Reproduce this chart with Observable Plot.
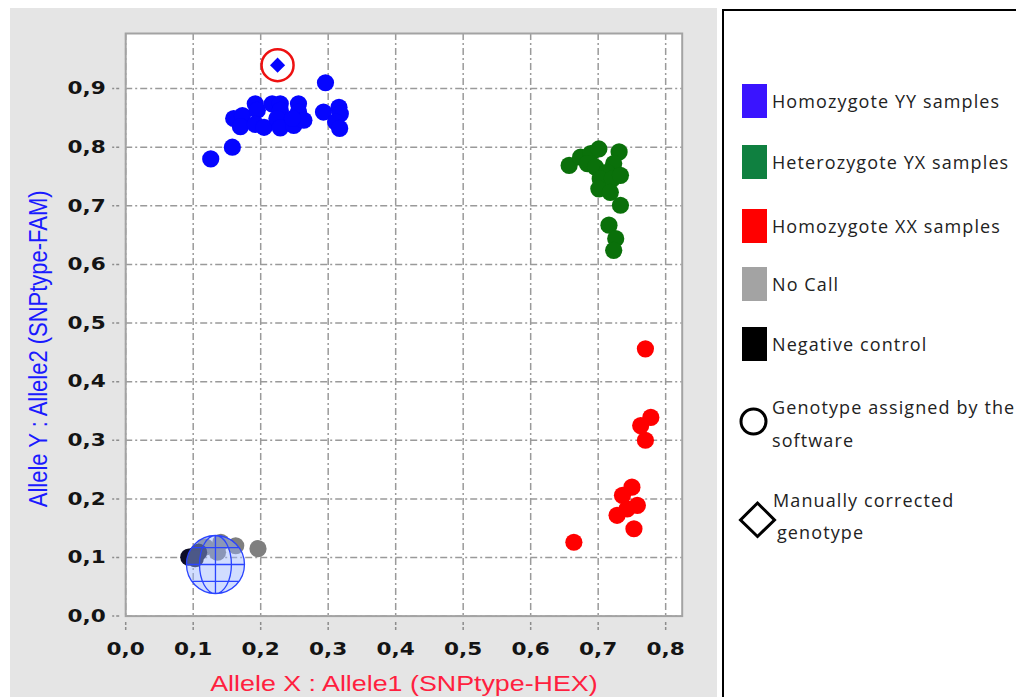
<!DOCTYPE html>
<html>
<head>
<meta charset="utf-8">
<script src="https://cdn.jsdelivr.net/npm/d3@7"></script>
<script src="https://cdn.jsdelivr.net/npm/@observablehq/plot@0.6"></script>
<style>
  html, body { margin: 0; padding: 0; background: #ffffff; }
  #wrap { position: relative; width: 1016px; height: 697px; overflow: hidden; background: #fff; }
  #panel { position: absolute; left: 10px; top: 8px; width: 707px; height: 700px; background: #e5e5e5; }
  #chart { position: absolute; left: 0; top: 0; }
  #legend { position: absolute; left: 722px; top: 9px; width: 320px; height: 720px; border: 2.5px solid #000; background: #fff; box-sizing: border-box; }
  .lg-item { position: absolute; left: 0; font-family: "Open Sans", "Noto Sans", sans-serif; font-size: 18px; color: #222; letter-spacing: 1.1px; white-space: nowrap; }
  .sw { position: absolute; left: 18px; width: 25px; height: 34px; }
  .lt { position: absolute; left: 48px; line-height: 34px; }
  g[aria-label="x-axis tick label"] text, g[aria-label="y-axis tick label"] text { font-family: "DejaVu Sans", sans-serif; font-weight: bold; font-size: 18px; }
</style>
</head>
<body>
<div id="wrap">
  <div id="panel"></div>
  <div id="chart"></div>
  <div id="legend"></div>
</div>
<script>
// ---- Data ----
const xTicks = [0, 0.1, 0.2, 0.3, 0.4, 0.5, 0.6, 0.7, 0.8];
const yTicks = [0, 0.1, 0.2, 0.3, 0.4, 0.5, 0.6, 0.7, 0.8, 0.9];
const xTitle = "Allele X : Allele1 (SNPtype-HEX)";
const yTitle = "Allele Y : Allele2 (SNPtype-FAM)";

// Homozygote YY samples
const yyX = [0.126, 0.158, 0.296, 0.160, 0.173, 0.170, 0.192, 0.195, 0.192, 0.205, 0.217, 0.229, 0.229, 0.224, 0.229, 0.249, 0.256, 0.256, 0.264, 0.247, 0.293, 0.316, 0.318, 0.311, 0.317];
const yyY = [0.780, 0.800, 0.910, 0.849, 0.854, 0.835, 0.874, 0.863, 0.839, 0.834, 0.874, 0.874, 0.863, 0.849, 0.833, 0.837, 0.874, 0.860, 0.846, 0.849, 0.860, 0.868, 0.857, 0.843, 0.832];
// Heterozygote YX samples
const yxX = [0.657, 0.674, 0.689, 0.701, 0.684, 0.696, 0.731, 0.723, 0.713, 0.703, 0.721, 0.733, 0.701, 0.718, 0.733, 0.716, 0.726, 0.723];
const yxY = [0.769, 0.783, 0.789, 0.797, 0.772, 0.766, 0.792, 0.772, 0.757, 0.746, 0.746, 0.752, 0.729, 0.723, 0.701, 0.667, 0.644, 0.624];
// Homozygote XX samples
const xxX = [0.770, 0.778, 0.763, 0.770, 0.750, 0.736, 0.758, 0.743, 0.728, 0.753, 0.664];
const xxY = [0.456, 0.339, 0.325, 0.300, 0.220, 0.206, 0.189, 0.183, 0.172, 0.149, 0.126];
// No Call
const ncX = [0.141, 0.163, 0.136, 0.118, 0.196];
const ncY = [0.126, 0.120, 0.109, 0.118, 0.115];
// Negative control
const negX = [0.0935, 0.101, 0.108, 0.103];
const negY = [0.1005, 0.103, 0.109, 0.098];
// Manually corrected genotype (diamond) and software-assigned ring
const manX = [0.225];
const manY = [0.940];
// Cluster centroid marker (globe)
const centX = [0.133];
const centY = [0.088];

const legendLabels = ["Homozygote YY samples", "Heterozygote YX samples", "Homozygote XX samples", "No Call", "Negative control"];
const legendColors = ["#3a14ff", "#0f8040", "#ff0000", "#a3a3a3", "#000000"];
const pointColors = ["#0505ff", "#0a700a", "#ff0000", "#7f7f7f", "#0d0d26"];

const zip = (xs, ys) => xs.map((x, i) => ({x, y: ys[i]}));
const yy = zip(yyX, yyY), yx = zip(yxX, yxY), xx = zip(xxX, xxY), nc = zip(ncX, ncY), neg = zip(negX, negY);
const man = zip(manX, manY), cent = zip(centX, centY);

const fmt = d => d3.format(".1f")(d).replace(".", ",");

// Globe symbol for cluster centroid
function ell(ctx, rx, ry) {
  const k = 0.5523;
  ctx.moveTo(rx, 0);
  ctx.bezierCurveTo(rx, k * ry, k * rx, ry, 0, ry);
  ctx.bezierCurveTo(-k * rx, ry, -rx, k * ry, -rx, 0);
  ctx.bezierCurveTo(-rx, -k * ry, -k * rx, -ry, 0, -ry);
  ctx.bezierCurveTo(k * rx, -ry, rx, -k * ry, rx, 0);
  ctx.closePath();
}
const globe = {
  draw(ctx, size) {
    const r = Math.sqrt(size / Math.PI);
    ctx.moveTo(r, 0); ctx.arc(0, 0, r, 0, 2 * Math.PI); ctx.closePath();
    ell(ctx, 0.55 * r, r);
    ctx.moveTo(0, -r); ctx.lineTo(0, r);
    ctx.moveTo(-r, 0); ctx.lineTo(r, 0);
    const h = 0.58 * r, w = Math.sqrt(r * r - h * h);
    ctx.moveTo(-w, -h); ctx.lineTo(w, -h);
    ctx.moveTo(-w, h); ctx.lineTo(w, h);
  }
};

const gridStyle = {stroke: "#9a9a9a", strokeOpacity: 1, strokeWidth: 1.5, strokeDasharray: "7,3,2,3"};

const chart = Plot.plot({
  width: 720,
  height: 697,
  marginLeft: 125.2,
  marginRight: 38.3,
  marginTop: 33,
  marginBottom: 81.4,
  style: {background: "transparent", overflow: "visible"},
  x: {domain: [0, 0.8245]},
  y: {domain: [0, 0.994]},
  marks: [
    Plot.frame({fill: "#ffffff", stroke: "none"}),
    Plot.gridX(xTicks, gridStyle),
    Plot.gridY(yTicks, gridStyle),
    Plot.frame({stroke: "#a3a3a3", strokeWidth: 2}),
    Plot.axisX(xTicks, {tickFormat: fmt, tickSize: 8, tickPadding: 12, dy: 6.5, stroke: "#8c8c8c", strokeWidth: 1.5, strokeDasharray: "3,2", fill: "#141414", label: null}),
    Plot.axisY(yTicks, {tickFormat: fmt, tickSize: 7, tickPadding: 7, dx: -6, stroke: "#8c8c8c", strokeWidth: 1.5, strokeDasharray: "3,2", fill: "#141414", label: null}),
    Plot.text([xTitle], {frameAnchor: "bottom", textAnchor: "middle", lineAnchor: "middle", dy: 68, fill: "#ff1f3f", fontSize: 22, fontFamily: "Liberation Sans, Arial, sans-serif"}),
    Plot.text([yTitle], {frameAnchor: "left", textAnchor: "middle", lineAnchor: "middle", dx: -87, dy: 24, rotate: -90, fill: "#1a1aff", fontSize: 22, fontFamily: "Liberation Sans, Arial, sans-serif"}),
    Plot.dot(yy, {x: "x", y: "y", r: 8.6, fill: pointColors[0]}),
    Plot.dot(yx, {x: "x", y: "y", r: 8.6, fill: pointColors[1]}),
    Plot.dot(xx, {x: "x", y: "y", r: 8.6, fill: pointColors[2]}),
    Plot.dot(nc, {x: "x", y: "y", r: 8.6, fill: pointColors[3]}),
    Plot.dot(neg, {x: "x", y: "y", r: 8.6, fill: pointColors[4]}),
    Plot.dot(cent, {x: "x", y: "y", r: 29, symbol: globe, fill: "#9ab4ff", fillOpacity: 0.45, stroke: "#2a44ff", strokeWidth: 1.3}),
    Plot.dot(man, {x: "x", y: "y", r: 6.8, symbol: "diamond2", fill: pointColors[0]}),
    Plot.dot(man, {x: "x", y: "y", r: 16, fill: "none", stroke: "#ee1111", strokeWidth: 2.5})
  ]
});

// Wide-glyph look of the original's axis text
d3.select(chart).selectAll('g[aria-label="x-axis tick label"] text, g[aria-label="y-axis tick label"] text').each(function() {
  const t = this.getAttribute("transform");
  if (t) this.setAttribute("transform", t + " scale(1.2,1)");
});
d3.select(chart).selectAll('g[aria-label="text"] text').each(function() {
  const t = this.getAttribute("transform") || "";
  const txt = this.textContent;
  if (txt === xTitle) this.setAttribute("transform", t + " scale(1.22,1)");
  if (txt === yTitle) this.setAttribute("transform", t + " scale(1,1.15)");
});

document.getElementById("chart").appendChild(chart);

// ---- Legend ----
const legend = document.getElementById("legend");
const itemTops = [73, 134, 198, 256, 316];
legendLabels.forEach((lab, i) => {
  const it = document.createElement("div");
  it.className = "lg-item";
  it.style.top = itemTops[i] + "px";
  it.innerHTML = `<div class="sw" style="background:${legendColors[i]};top:0"></div><div class="lt" style="top:0">${lab}</div>`;
  legend.appendChild(it);
});

// Shape legend drawn as small SVG glyphs
const shapes = document.createElementNS("http://www.w3.org/2000/svg", "svg");
shapes.setAttribute("width", 60); shapes.setAttribute("height", 600);
shapes.style.position = "absolute"; shapes.style.left = "0px"; shapes.style.top = "0px";
const sel = d3.select(shapes);
sel.append("circle").attr("cx", 29.5).attr("cy", 410.5).attr("r", 12.5).attr("fill", "none").attr("stroke", "#000").attr("stroke-width", 3);
sel.append("path").attr("d", "M33.5,492 L50.5,509 L33.5,525.5 L16.5,509 Z").attr("fill", "none").attr("stroke", "#000").attr("stroke-width", 3);
legend.appendChild(shapes);

const texts = [
  {t: "Genotype assigned by the", left: 48, top: 379},
  {t: "software", left: 48, top: 412},
  {t: "Manually corrected", left: 49, top: 472},
  {t: "genotype", left: 53, top: 504}
];
texts.forEach(d => {
  const el = document.createElement("div");
  el.className = "lg-item";
  el.style.top = d.top + "px";
  el.innerHTML = `<div class="lt" style="left:${d.left}px;top:0">${d.t}</div>`;
  legend.appendChild(el);
});
</script>
</body>
</html>
